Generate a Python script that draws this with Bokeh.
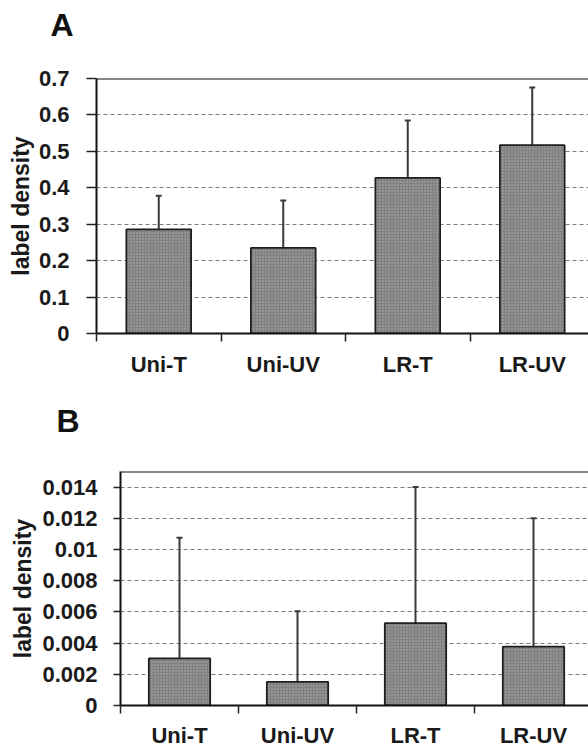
from bokeh.plotting import figure
from bokeh.models import Range1d, FixedTicker, Whisker, TeeHead, Span, Title, ColumnDataSource
from bokeh.embed import file_html
from bokeh.resources import INLINE

# ---- data ----
categories = ["Uni-T", "Uni-UV", "LR-T", "LR-UV"]
a_means = [0.286, 0.235, 0.427, 0.517]
a_sd = [0.092, 0.130, 0.158, 0.158]
b_means = [0.00302, 0.00151, 0.00528, 0.00377]
b_sd = [0.00774, 0.00453, 0.00872, 0.00823]
a_yticks = [0, 0.1, 0.2, 0.3, 0.4, 0.5, 0.6, 0.7]
a_ylabels = ["0", "0.1", "0.2", "0.3", "0.4", "0.5", "0.6", "0.7"]
b_yticks = [0, 0.002, 0.004, 0.006, 0.008, 0.01, 0.012, 0.014]
b_ylabels = ["0", "0.002", "0.004", "0.006", "0.008", "0.01", "0.012", "0.014"]
y_title = "label density"

FONT = "Liberation Sans"
W = 588


def panel(letter, means, sd, ymax, yticks, ylabels, height, xend,
          bl, bt, bb, tick_out, lab_sd, title_sd, xlab_sd, letter_off, letter_sd, spacer_sd):
    p = figure(width=W, height=height, x_range=Range1d(0, xend), y_range=Range1d(0, ymax),
               output_backend="svg", toolbar_location=None,
               min_border_left=bl, min_border_top=bt, min_border_bottom=bb, min_border_right=0)
    p.outline_line_color = None
    p.background_fill_color = "white"
    p.border_fill_color = "white"

    # panel letter (outermost above element)
    p.title.text = letter
    p.title.align = "left"
    p.title.vertical_align = "top"
    p.title.offset = letter_off
    p.title.standoff = letter_sd
    p.title.text_font = FONT
    p.title.text_font_style = "bold"
    p.title.text_font_size = "32px"
    p.title.text_color = "#111111"
    # empty spacer between the letter and the frame
    p.add_layout(Title(text=" ", standoff=spacer_sd, text_font_size="2px",
                       text_color="white"), "above")

    n = len(categories)
    centers = [i + 0.5 for i in range(n)]
    src = ColumnDataSource(dict(x=centers, mean=means,
                                upper=[m + s for m, s in zip(means, sd)]))

    # x axis
    xa = p.xaxis[0]
    xa.ticker = FixedTicker(ticks=centers, minor_ticks=list(range(n + 1)))
    xa.major_label_overrides = {c: lab for c, lab in zip(centers, categories)}
    xa.major_tick_out = 0
    xa.major_tick_in = 0
    xa.minor_tick_out = 8
    xa.minor_tick_in = 0
    xa.minor_tick_line_color = "#222222"
    xa.minor_tick_line_width = 1.5
    xa.axis_line_color = "#111111"
    xa.axis_line_width = 2
    xa.major_label_standoff = xlab_sd
    xa.major_label_text_font = FONT
    xa.major_label_text_font_style = "bold"
    xa.major_label_text_font_size = "22px"
    xa.major_label_text_color = "#1a1a1a"

    # y axis
    ya = p.yaxis[0]
    ya.ticker = FixedTicker(ticks=yticks)
    ya.major_label_overrides = {t: l for t, l in zip(yticks, ylabels)}
    ya.major_tick_out = tick_out
    ya.major_tick_in = 0
    ya.major_tick_line_color = "#222222"
    ya.major_tick_line_width = 1.5
    ya.minor_tick_line_color = None
    ya.axis_line_color = "#111111"
    ya.axis_line_width = 2
    ya.major_label_standoff = lab_sd
    ya.major_label_text_font = FONT
    ya.major_label_text_font_style = "bold"
    ya.major_label_text_font_size = "22px"
    ya.major_label_text_color = "#1a1a1a"

    p.add_layout(Title(text=y_title, align="center", standoff=title_sd,
                       text_font=FONT, text_font_style="bold", text_font_size="23px",
                       text_color="#1a1a1a"), "left")

    p.xgrid.visible = False
    p.ygrid.ticker = FixedTicker(ticks=yticks)
    p.ygrid.grid_line_color = "#7a7a7a"
    p.ygrid.grid_line_dash = "4 3"
    p.ygrid.grid_line_width = 1

    p.vbar(x="x", top="mean", width=0.52, source=src,
           fill_color="#808080", line_color="#1e1e1e", line_width=1.8,
           hatch_pattern="dot", hatch_color="#d8d8d8", hatch_alpha=0.55,
           hatch_scale=3, hatch_weight=1)

    p.add_layout(Whisker(source=src, base="x", lower="mean", upper="upper",
                         dimension="height", line_color="#3a3a3a", line_width=2,
                         upper_head=TeeHead(size=6, line_color="#3a3a3a", line_width=2),
                         lower_head=None))

    p.add_layout(Span(location=ymax, dimension="width", line_color="#111111", line_width=2))
    return p


HA = 390
pA = panel("A", a_means, a_sd, 0.7, a_yticks, a_ylabels, HA, (W - 96) / 124.5,
           bl=96, bt=77, bb=HA - 333, tick_out=10, lab_sd=17, title_sd=4, xlab_sd=10,
           letter_off=-46, letter_sd=13, spacer_sd=23)

HB = 750 - HA
pB = panel("B", b_means, b_sd, 0.015, b_yticks, b_ylabels, HB, (W - 120) / 118,
           bl=120, bt=470 - HA, bb=750 - 708, tick_out=7, lab_sd=16, title_sd=7, xlab_sd=9,
           letter_off=-64, letter_sd=24, spacer_sd=15)

open("out.html", "w").write(file_html([pA, pB], INLINE))
